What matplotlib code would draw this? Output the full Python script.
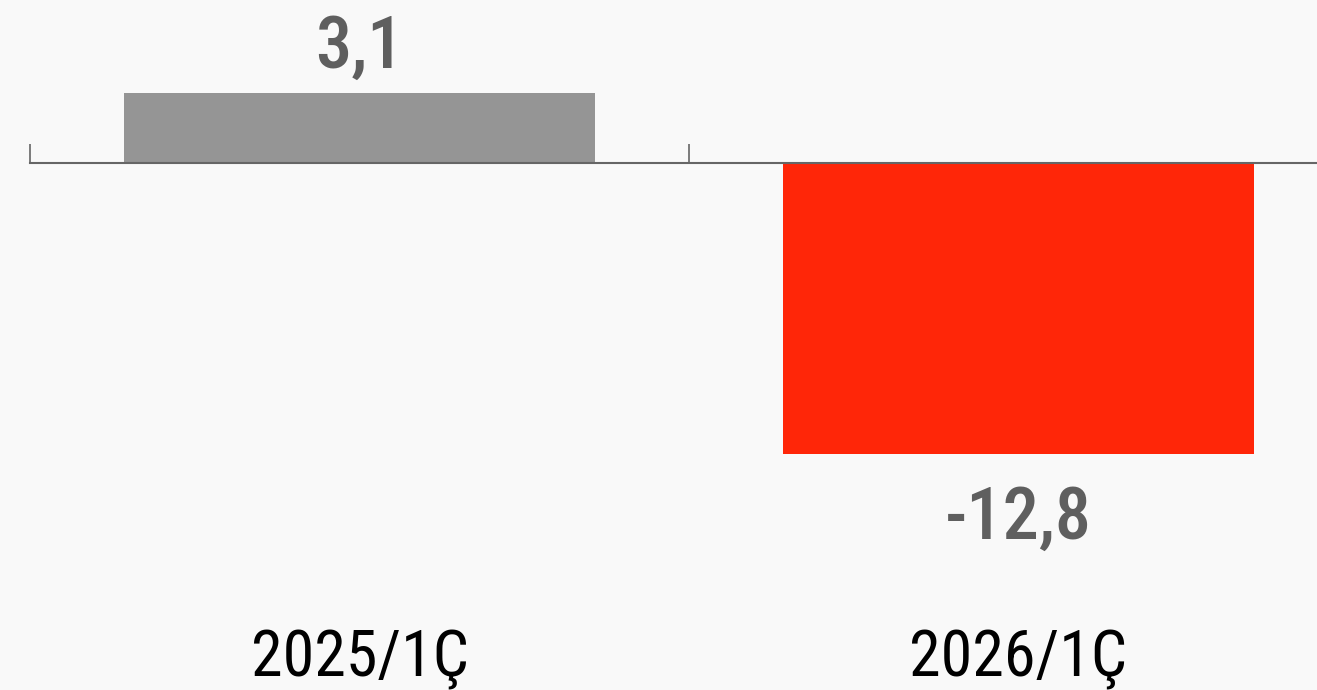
import numpy as np
import matplotlib.pyplot as plt
from matplotlib import transforms

# veriler
donemler = ["2025/1Ç", "2026/1Ç"]
degerler = [3.1, -12.8]
etiketler = ["3,1", "-12,8"]
renkler = ["#959595", "#ff2608"]

plt.rcParams['font.family'] = ['Roboto Condensed', 'DejaVu Sans']

fig = plt.figure(figsize=(13.17, 6.9), dpi=100)
fig.patch.set_facecolor("#f9f9f9")
ax = fig.add_axes([30 / 1317, 0, 1318 / 1317, 1])
ax.set_facecolor("none")

x = np.arange(len(donemler))
ax.bar(x, degerler, width=0.716, color=renkler, zorder=2)

ax.set_xlim(-0.5, 1.5)
ax.set_ylim(-23.2, 7.18)

# eksen cizgisi sifirda, kategori sinirlarinda yukari dogru ticks
for s in ["top", "right", "left"]:
    ax.spines[s].set_visible(False)
ax.spines["bottom"].set_position(("data", 0))
ax.spines["bottom"].set_color("#666666")
ax.spines["bottom"].set_linewidth(1.5)
ax.spines["bottom"].set_zorder(3)
ax.set_yticks([])
ax.set_xticks([])
ax.set_xticks(np.arange(-0.5, len(donemler)), minor=True)
ax.tick_params(axis="x", which="minor", direction="in", length=14, width=1.2,
               color="#666666", labelbottom=False)

for xi, v, lab in zip(x, degerler, etiketler):
    dy = 18 if v >= 0 else -61
    ax.annotate(lab, (xi, v), xytext=(0, dy), textcoords="offset points",
                ha="center", va="baseline", fontsize=52, fontweight=500,
                color="#5f5f5f")

trans = transforms.blended_transform_factory(ax.transData, ax.transAxes)
for xi, d in zip(x, donemler):
    ax.text(xi, 0.019, d, transform=trans, ha="center", va="baseline",
            fontsize=46, color="#000000")

fig.savefig("out.png", dpi=100, facecolor=fig.get_facecolor())
